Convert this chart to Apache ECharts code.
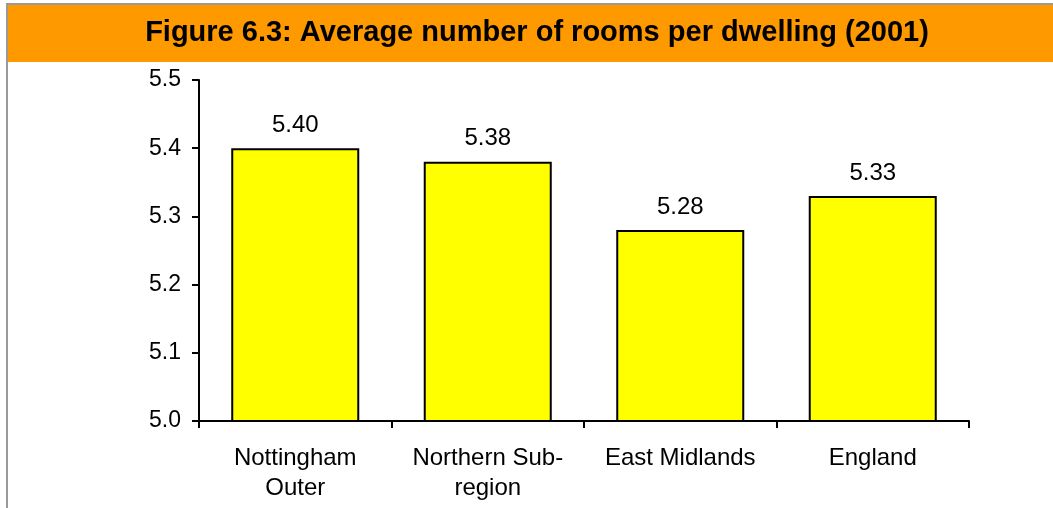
<!DOCTYPE html>
<html>
<head>
<meta charset="utf-8">
<script src="https://cdn.jsdelivr.net/npm/echarts@6/dist/echarts.min.js"></script>
<style>
  html, body { margin: 0; padding: 0; background: #fff; }
  #chart { width: 1053px; height: 508px; }
</style>
</head>
<body>
<div id="chart"></div>
<script>
var categories = ['Nottingham\nOuter', 'Northern Sub-\nregion', 'East Midlands', 'England'];
var rooms = [5.40, 5.38, 5.28, 5.33];
var yTicks = [5.0, 5.1, 5.2, 5.3, 5.4, 5.5];

var chart = echarts.init(document.getElementById('chart'));
var option = {
  animation: false,
  textStyle: { fontFamily: 'Liberation Sans, Arial, sans-serif' },
  graphic: [
    // outer frame (cut off on the right and bottom)
    { type: 'rect', shape: { x: 7, y: 4, width: 1060, height: 520 },
      style: { fill: '#fff', stroke: '#999', lineWidth: 2 }, z: -10 },
    { type: 'rect', shape: { x: 8, y: 5, width: 1045, height: 57 },
      style: { fill: '#FF9900' }, z: -5 },
    { type: 'text', x: 537, y: 33,
      style: { text: 'Figure 6.3: Average number of rooms per dwelling (2001)',
        fill: '#000', align: 'center', verticalAlign: 'middle',
        font: 'bold 29px Liberation Sans, Arial, sans-serif' } }
  ],
  grid: { left: 199, right: 84, top: 80, bottom: 87 },
  xAxis: {
    type: 'category',
    data: categories,
    axisLine: { lineStyle: { color: '#000', width: 2 } },
    axisTick: { show: true, interval: 0, length: 7, lineStyle: { color: '#000', width: 2 } },
    axisLabel: { color: '#000', interval: 0, fontSize: 24, lineHeight: 30, margin: 22 }
  },
  yAxis: {
    type: 'value',
    min: yTicks[0],
    max: yTicks[yTicks.length - 1],
    interval: 0.1,
    axisLine: { show: true, lineStyle: { color: '#000', width: 2 } },
    axisTick: { show: true, length: 7, lineStyle: { color: '#000', width: 2 } },
    splitLine: { show: false },
    axisLabel: { color: '#000', fontSize: 23, margin: 18,
      formatter: function (v) { return v.toFixed(1); } }
  },
  series: [{
    type: 'bar',
    data: rooms,
    barWidth: '66.5%',
    itemStyle: { color: '#FFFF00', borderColor: '#000', borderWidth: 2 },
    label: {
      show: true, position: 'top', distance: 11, color: '#000', fontSize: 24,
      formatter: function (p) { return p.value.toFixed(2); }
    }
  }]
};
chart.setOption(option);
</script>
</body>
</html>
